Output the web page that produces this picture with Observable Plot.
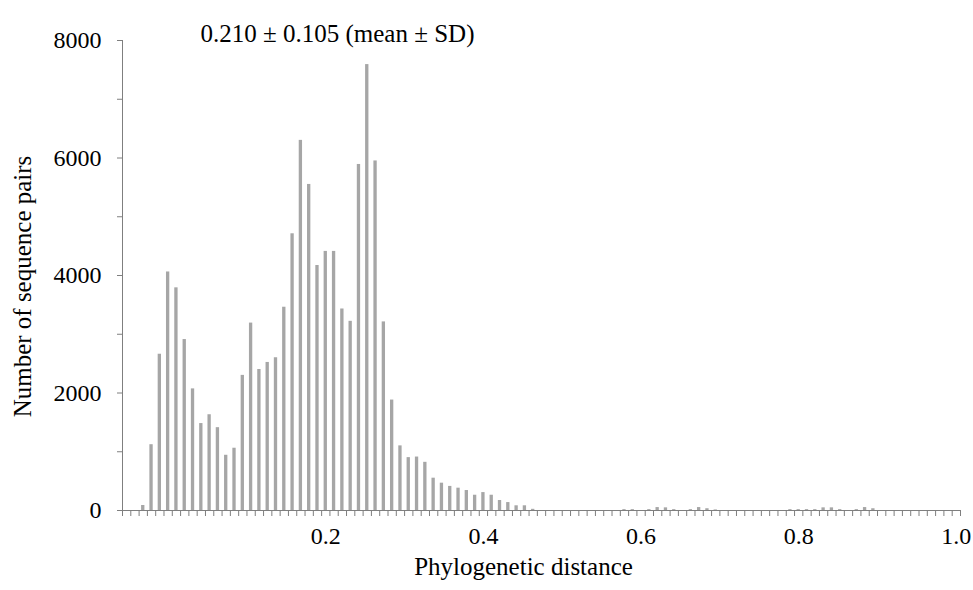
<!DOCTYPE html>
<html>
<head>
<meta charset="utf-8">
<script src="https://cdn.jsdelivr.net/npm/d3@7"></script>
<script src="https://cdn.jsdelivr.net/npm/@observablehq/plot@0.6"></script>
<style>
  html, body { margin: 0; padding: 0; background: white; }
  svg text { font-family: "Liberation Serif", "Times New Roman", serif; }
</style>
</head>
<body>
<div id="chart"></div>
<script>
// Distance bins (0.00 ... 1.00, width 0.01)
const distanceBins = d3.range(101).map(i => (i / 100).toFixed(2));

// Number of sequence pairs in each bin
const pairCounts = [
  0, 0, 85, 1120, 2660, 4060, 3790, 2910, 2070, 1480,
  1630, 1410, 940, 1060, 2300, 3190, 2400, 2520, 2600, 3460,
  4710, 6300, 5550, 4170, 4410, 4410, 3430, 3220, 5890, 7590,
  5950, 3210, 1880, 1100, 900, 910, 820, 550, 465, 410,
  380, 340, 260, 305, 260, 170, 135, 80, 80, 20,
  0, 0, 0, 0, 0, 0, 0, 0, 0, 0,
  15, 15, 0, 15, 50, 45, 15, 0, 15, 50,
  30, 10, 0, 0, 0, 0, 0, 0, 0, 0,
  15, 15, 15, 15, 45, 45, 15, 0, 15, 50,
  30, 0, 0, 0, 0, 0, 0, 0, 0, 0,
  0
];

// Axis ticks and labels
const yTicks = [0, 1000, 2000, 3000, 4000, 5000, 6000, 7000, 8000];
const yLabelTicks = [0, 2000, 4000, 6000, 8000];
const xLabelBins = ["0.24", "0.43", "0.62", "0.81", "1.00"];
const xTickLabels = ["0.2", "0.4", "0.6", "0.8", "1.0"];

const titleText = "0.210 \u00B1 0.105 (mean \u00B1 SD)";
const xTitle = "Phylogenetic distance";
const yTitle = "Number of sequence pairs";

const data = distanceBins.map((bin, i) => ({bin, count: pairCounts[i]}));

const W = 973, H = 590;
const mL = 122, mR = 13, mT = 40, mB = 80;
const step = (W - mL - mR) / distanceBins.length;
const axisColor = "#7f7f7f";
const barColor = "#a6a6a6";
const font = "Liberation Serif";

const chart = Plot.plot({
  width: W,
  height: H,
  marginLeft: mL,
  marginRight: mR,
  marginTop: mT,
  marginBottom: mB,
  style: "font-family: 'Liberation Serif', 'Times New Roman', serif; font-size: 24px; background: white; color: black;",
  x: {type: "band", domain: distanceBins, paddingInner: 0.6, paddingOuter: 0.3, round: false, label: null},
  y: {domain: [0, 8000], label: null},
  marks: [
    Plot.barY(data, {x: "bin", y: "count", fill: barColor}),
    Plot.ruleY([0], {stroke: axisColor}),
    Plot.ruleX([distanceBins[0]], {y1: 0, y2: 8000, dx: -step / 2, stroke: axisColor}),
    Plot.axisY({ticks: yTicks, tickSize: 5, stroke: axisColor, tickFormat: () => ""}),
    Plot.axisY({ticks: yLabelTicks, tickSize: 0, tickPadding: 21, fill: "black", fontSize: 24, fontFamily: font, tickFormat: d => String(d)}),
    Plot.axisX({ticks: distanceBins, tickSize: 6, dx: -step / 2, stroke: axisColor, tickFormat: () => ""}),
    Plot.axisX({ticks: [distanceBins[distanceBins.length - 1]], tickSize: 6, dx: step / 2, stroke: axisColor, tickFormat: () => ""}),
    Plot.axisX({ticks: xLabelBins, tickSize: 0, tickPadding: 16, fill: "black", fontSize: 24, fontFamily: font,
      tickFormat: d => xTickLabels[xLabelBins.indexOf(d)]}),
    Plot.text([titleText], {text: d => d, frameAnchor: "top-left", textAnchor: "middle", dx: 215, dy: -16, fontSize: 25, fontFamily: font, fill: "black"}),
    Plot.text([xTitle], {text: d => d, frameAnchor: "bottom", textAnchor: "middle", dx: -18, dy: 64, fontSize: 25, fontFamily: font, fill: "black"}),
    Plot.text([yTitle], {text: d => d, frameAnchor: "left", textAnchor: "middle", rotate: -90, dx: -100, dy: 11, fontSize: 25, fontFamily: font, fill: "black"})
  ]
});

document.getElementById("chart").appendChild(chart);
</script>
</body>
</html>
